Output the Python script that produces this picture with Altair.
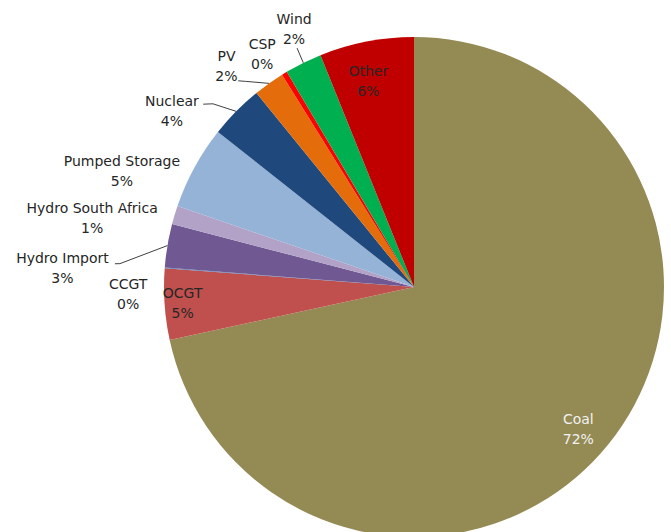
import math
import altair as alt
import pandas as pd

# ---------------- data ----------------
names = ["Coal", "OCGT", "CCGT", "Hydro Import", "Hydro South Africa",
         "Pumped Storage", "Nuclear", "PV", "CSP", "Wind", "Other"]
shares = [71.6, 4.6, 0.05, 2.8, 1.2, 5.4, 3.5, 2.0, 0.35, 2.4, 6.1]
pct_labels = ["72%", "5%", "0%", "3%", "1%", "5%", "4%", "2%", "0%", "2%", "6%"]

# ---------------- styling / layout ----------------
colors = ["#948A54", "#C0504D", "#4F81BD", "#705993", "#B3A2C7",
          "#95B3D7", "#1F497D", "#E46C0A", "#FF0000", "#00B050", "#C00000"]
CX, CY, R = 414, 287, 250
# label placement: (angle nudge from slice middle in degrees, distance from centre in px)
label_layout = {
    "Coal": (2.2, 218), "OCGT": (-0.2, 232), "CCGT": (-6.0, 286),
    "Hydro Import": (-6.6, 352), "Hydro South Africa": (-4.8, 329),
    "Pumped Storage": (-7.1, 314), "Nuclear": (-8.7, 299), "PV": (-5.0, 289),
    "CSP": (-2.0, 277), "Wind": (1.3, 284), "Other": (-1.6, 210),
}
# leader lines: list of (angle nudge, radius) points after the slice edge point
leader_layout = {
    "Wind": [(0.2, 266)],
    "PV": [(-3.9, 266), (-5.0, 271)],
    "Nuclear": [(-2.3, 272), (-3.7, 279)],
    "Hydro Import": [(-5.0, 295), (-5.1, 300)],
}

df = pd.DataFrame({"name": names, "value": shares, "pct": pct_labels})
df["idx"] = range(len(df))
total = df["value"].sum()
df["mid"] = (df["value"].cumsum() - df["value"] / 2) / total * 360.0
df["label"] = df["name"] + "\n" + df["pct"]
df["lt"] = [math.radians(m + label_layout[n][0]) for n, m in zip(df["name"], df["mid"])]
df["lr"] = [label_layout[n][1] for n in df["name"]]

rows = []
for n, pts in leader_layout.items():
    mid = float(df.loc[df["name"] == n, "mid"].iloc[0])
    seq = [(0.0, R)] + pts
    for k, (dth, r) in enumerate(seq):
        a = math.radians(mid + dth)
        rows.append({"name": n, "k": k,
                     "x": CX + r * math.sin(a), "y": CY - r * math.cos(a)})
lead = pd.DataFrame(rows)

base = alt.Chart(df)

pie = base.mark_arc(outerRadius=R).encode(
    theta=alt.Theta("value:Q", stack=True),
    color=alt.Color("name:N", scale=alt.Scale(domain=names, range=colors), legend=None),
    order=alt.Order("idx:Q"),
    x=alt.value(CX), y=alt.value(CY),
)

labels = base.mark_text(lineBreak="\n", font="DejaVu Sans", fontSize=14,
                        lineHeight=20, align="center", baseline="middle", dy=-10).encode(
    theta=alt.Theta("lt:Q", scale=None),
    radius=alt.Radius("lr:Q", scale=None),
    text="label:N",
    x=alt.value(CX), y=alt.value(CY),
    color=alt.condition(alt.datum.name == "Coal", alt.value("#F2F2F2"), alt.value("#262626")),
)

leaders = alt.Chart(lead).mark_line(color="#404040", strokeWidth=1).encode(
    x=alt.X("x:Q", scale=None), y=alt.Y("y:Q", scale=None),
    detail="name:N", order="k:Q",
)

chart = alt.layer(pie, leaders, labels).properties(
    width=671, height=532, padding=0, autosize=alt.AutoSizeParams(type="none"),
    background="white",
).configure_view(stroke=None)

chart.save("out.html", embed_options={"renderer": "svg", "actions": False})
